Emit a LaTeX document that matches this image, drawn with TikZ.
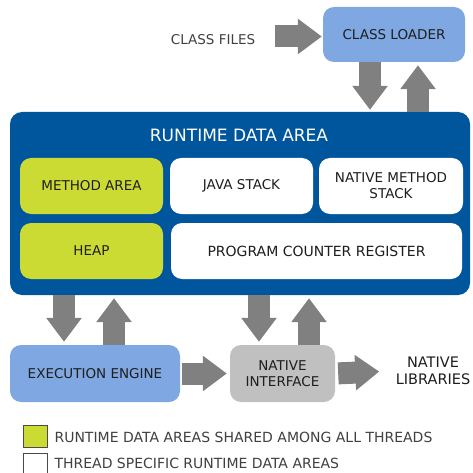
\documentclass[tikz,border=0pt]{standalone}
\usepackage{fontspec}
\setmainfont{DejaVu Sans}
\usetikzlibrary{arrows.meta}

\definecolor{rdablue}{RGB}{0,86,156}
\definecolor{ldrblue}{RGB}{127,168,226}
\definecolor{shared}{RGB}{204,219,51}
\definecolor{ifgray}{RGB}{192,192,192}
\definecolor{arrgray}{RGB}{128,128,128}
\definecolor{txt}{RGB}{30,30,30}

\begin{document}
\begin{tikzpicture}[x=1pt,y=-1pt,>=Stealth,font=\fontsize{13.5}{16}\selectfont,
 box/.style={rounded corners=11pt,inner sep=0pt,align=center,text=txt},
 blk/.style={draw=arrgray,line width=22pt,-{Triangle[length=24pt,width=34pt]}},
 key/.style={draw=txt!80,minimum width=24pt,minimum height=22pt,inner sep=0pt}]
 \useasboundingbox (0,0) rectangle (473,473);
 % class loader
 \node[box,fill=ldrblue,minimum width=142pt,minimum height=55pt] (cl) at (394,34.5) {CLASS LOADER};
 \node[text=txt!85] (cf) at (213,40) {CLASS FILES};
 % runtime data area
 \node[rounded corners=12pt,fill=rdablue,minimum width=460pt,minimum height=183pt] (rda) at (240,203.5) {};
 \node[text=white,font=\fontsize{17}{19}\selectfont] (rdat) at (239,135) {RUNTIME DATA AREA};
 \node[box,fill=shared,minimum width=143pt,minimum height=56pt] (ma) at (91.5,186) {METHOD AREA};
 \node[box,fill=white,minimum width=143pt,minimum height=56pt] (js) at (241.5,186) {JAVA STACK};
 \node[box,fill=white,minimum width=144pt,minimum height=56pt] (nms) at (391,186) {NATIVE METHOD\\STACK};
 \node[box,fill=shared,minimum width=143pt,minimum height=56pt] (hp) at (91.5,251) {HEAP};
 \node[box,fill=white,minimum width=291pt,minimum height=56pt,font=\fontsize{14}{16}\selectfont] (pcr) at (316.5,251) {PROGRAM COUNTER REGISTER};
 % engine and native side
 \node[box,fill=ldrblue,minimum width=170pt,minimum height=57pt] (ee) at (95,373.5) {EXECUTION ENGINE};
 \node[box,fill=ifgray,minimum width=105pt,minimum height=57pt] (ni) at (282.5,373.5) {NATIVE\\INTERFACE};
 \node[align=center,text=txt,font=\fontsize{14.5}{17}\selectfont] (nl) at (433,371) {NATIVE\\LIBRARIES};
 % block arrows
 \coordinate (cfa) at (275,36.5);
 \coordinate (dn1) at (370,0);
 \coordinate (up1) at (418,0);
 \coordinate (dn2) at (64,0);
 \coordinate (up2) at (114,0);
 \coordinate (dn3) at (259,0);
 \coordinate (up3) at (309,0);
 \draw[blk,shorten >=1pt] (cfa) -- (cfa -| cl.west);
 \draw[blk,shorten >=2pt] (cl.south -| dn1) -- (rda.north -| dn1);
 \draw[blk,shorten >=3pt] (rda.north -| up1) -- (cl.south -| up1);
 \draw[blk,shorten >=3pt] (rda.south -| dn2) -- (ee.north -| dn2);
 \draw[blk,shorten >=3pt] (ee.north -| up2) -- (rda.south -| up2);
 \draw[blk,shorten >=3pt] (rda.south -| dn3) -- (ni.north -| dn3);
 \draw[blk,shorten >=3pt] (ni.north -| up3) -- (rda.south -| up3);
 \draw[blk,shorten <=2pt,shorten >=3pt] (ee.east) -- (ni.west);
 \draw[blk,shorten <=3pt,shorten >=13pt] (ni.east) -- (nl.west);
 % legend
 \node[key,fill=shared] (k1) at (35,436) {};
 \node[anchor=west,text=txt!85,font=\fontsize{14}{16}\selectfont] (k1t) at (51,437) {RUNTIME DATA AREAS SHARED AMONG ALL THREADS};
 \node[key,fill=white] (k2) at (35,464) {};
 \node[anchor=west,text=txt!85,font=\fontsize{14}{16}\selectfont] (k2t) at (51,463) {THREAD SPECIFIC RUNTIME DATA AREAS};
\end{tikzpicture}
\end{document}
